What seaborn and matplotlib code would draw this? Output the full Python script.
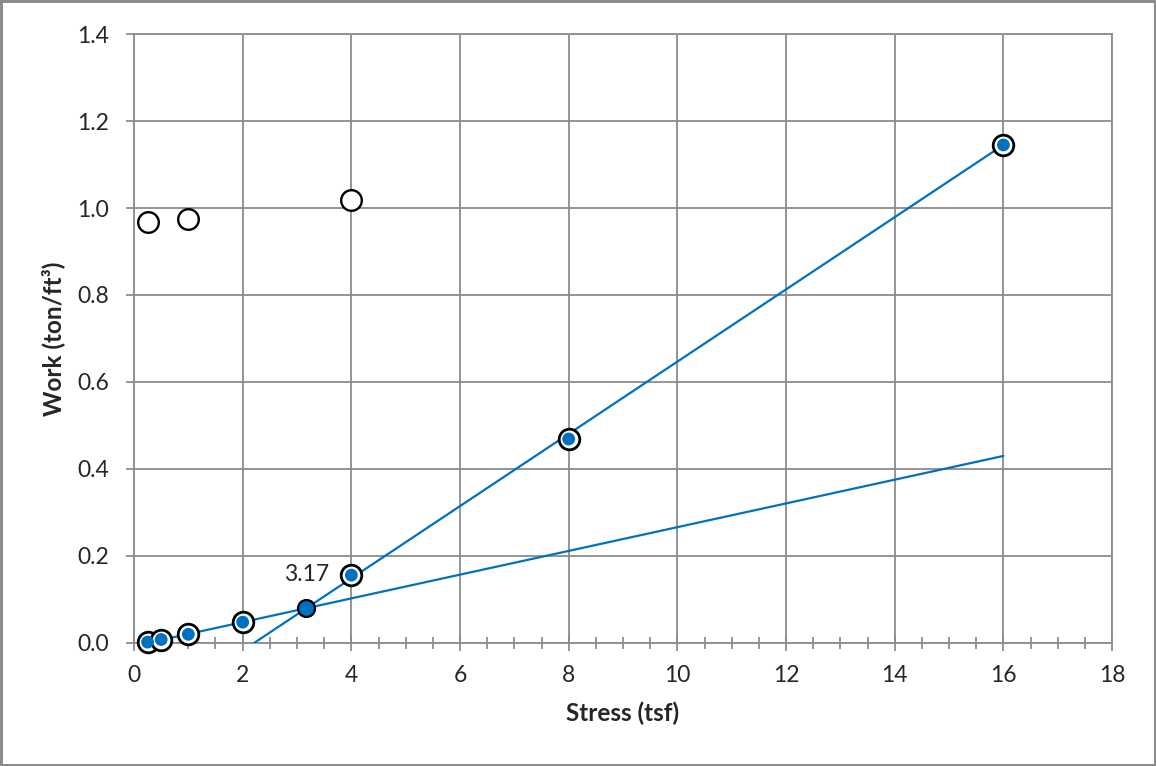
import matplotlib
matplotlib.use("Agg")
import matplotlib.pyplot as plt
from matplotlib.ticker import MultipleLocator, FormatStrFormatter
import seaborn as sns
import pandas as pd

# measured points (stress tsf, work ton/ft3)
stress = [0.25, 0.5, 1, 2, 4, 8, 16]
work = [0.002, 0.008, 0.02, 0.048, 0.156, 0.469, 1.145]

# other series (open circles)
open_stress = [0.25, 1, 4]
open_work = [0.968, 0.975, 1.018]

# the two fitted lines
fit1_x = [0.5, 16]
fit1_y = [0.007, 0.43]
fit2_x = [2.21, 16]
fit2_y = [0.0, 1.145]

# intersection
cross_x = [3.17]
cross_y = [0.08]
cross_label = "3.17"

blue = "#0070C0"
grey = "#8C8C8C"

sns.set_style("white")
plt.rcParams["font.family"] = ["Lato", "DejaVu Sans"]

fig = plt.figure(figsize=(11.56, 7.66), dpi=100)
ax = fig.add_axes([0.1159, 0.1606, 0.8461, 0.795])

pts = pd.DataFrame({"x": stress, "y": work})
sns.lineplot(x=fit1_x, y=fit1_y, color=blue, lw=1.6, ax=ax, zorder=3)
sns.lineplot(x=fit2_x, y=fit2_y, color=blue, lw=1.6, ax=ax, zorder=3)
sns.scatterplot(data=pts, x="x", y="y", s=220, facecolor="white", edgecolor="black",
                linewidth=2.0, ax=ax, zorder=4, clip_on=False)
sns.scatterplot(data=pts, x="x", y="y", s=85, color=blue, edgecolor="none", ax=ax,
                zorder=5, clip_on=False)
sns.scatterplot(x=open_stress, y=open_work, s=220, facecolor="white", edgecolor="black",
                linewidth=1.7, ax=ax, zorder=4)
sns.scatterplot(x=cross_x, y=cross_y, s=150, color=blue, edgecolor="black",
                linewidth=1.6, ax=ax, zorder=6)
ax.text(3.6, 0.158, cross_label, ha="right", va="center", fontsize=16.5)

ax.set_xlim(0, 18)
ax.set_ylim(0, 1.4)
ax.xaxis.set_major_locator(MultipleLocator(2))
ax.xaxis.set_minor_locator(MultipleLocator(0.5))
ax.yaxis.set_major_locator(MultipleLocator(0.2))
ax.yaxis.set_major_formatter(FormatStrFormatter("%.1f"))
ax.grid(True, which="major", color=grey, lw=1.3)
ax.set_axisbelow(True)
for s in ax.spines.values():
    s.set_color(grey)
    s.set_linewidth(1.3)
ax.tick_params(axis="x", which="major", direction="inout", length=12, width=1.3,
               color=grey, labelsize=16.5, pad=10, bottom=True)
ax.tick_params(axis="x", which="minor", direction="inout", length=8, width=1.3,
               color=grey, bottom=True)
ax.tick_params(axis="y", which="major", direction="out", length=6, width=1.3,
               color=grey, labelsize=16.5, pad=12, left=True)
ax.set_xlabel("Stress (tsf)", fontsize=17.5, fontweight="bold", labelpad=11)
ax.set_ylabel("Work (ton/ft³)", fontsize=17.5, fontweight="bold", labelpad=9)

fig.patch.set_edgecolor(grey)
fig.patch.set_linewidth(2.5)

fig.savefig("out.png", dpi=100, edgecolor=fig.get_edgecolor())
